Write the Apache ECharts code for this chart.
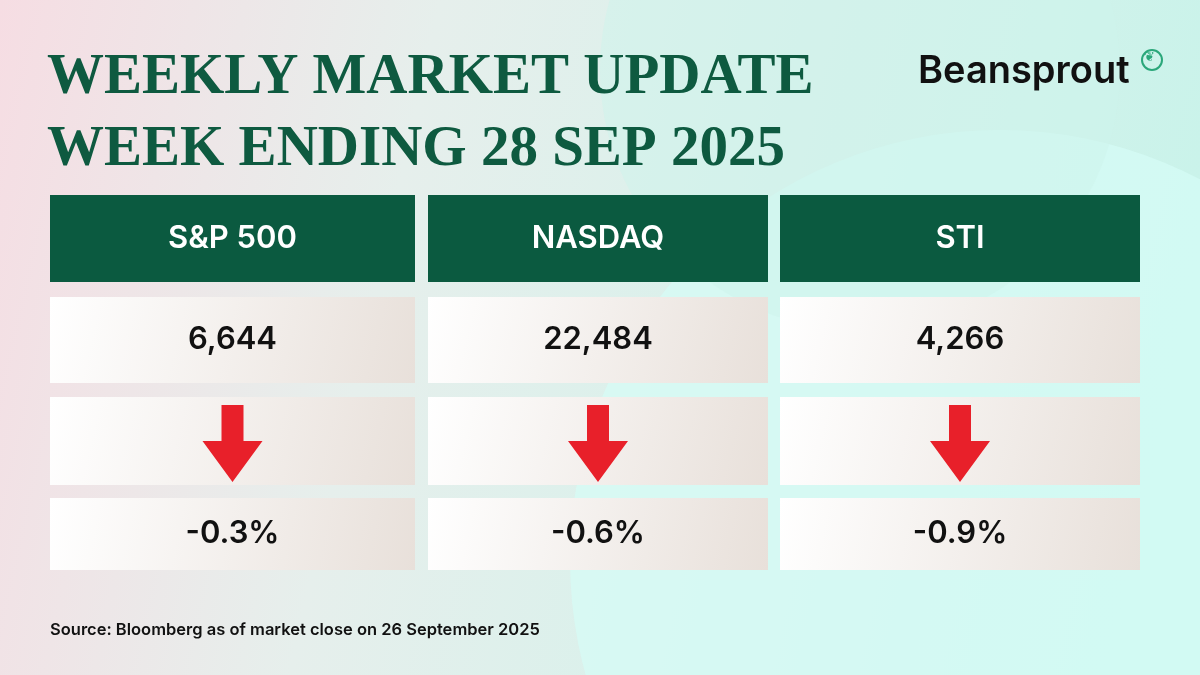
<!DOCTYPE html>
<html><head><meta charset="utf-8">
<script src="https://cdn.jsdelivr.net/npm/echarts@6/dist/echarts.min.js"></script>
<style>html,body{margin:0;padding:0}#c{width:1200px;height:675px}</style>
</head><body><div id="c"></div>
<script>
const indices = ["S&P 500", "NASDAQ", "STI"];
const levels = ["6,644", "22,484", "4,266"];
const changes = [-0.3, -0.6, -0.9];
const titleLines = ["WEEKLY MARKET UPDATE", "WEEK ENDING 28 SEP 2025"];
const sourceText = "Source: Bloomberg as of market close on 26 September 2025";

const chart = echarts.init(document.getElementById('c'));
const colX = [[50,415],[428,768],[780,1140]];
const rows = {head:[195,282], val:[297,383], arrow:[397,485], pct:[498,570]};
const g = [];
g.push({type:'rect', shape:{x:0,y:0,width:1200,height:675}, style:{fill:new echarts.graphic.LinearGradient(0,0,1,0.4,[{offset:0,color:'#f6dde3'},{offset:0.35,color:'#e6efec'},{offset:1,color:'#c9f3ea'}])}, z:0});
g.push({type:'circle', shape:{cx:1000,cy:560,r:430}, style:{fill:'rgba(214,252,246,0.7)'}, z:0});
g.push({type:'circle', shape:{cx:860,cy:70,r:260}, style:{fill:'rgba(205,244,236,0.5)'}, z:0});
titleLines.forEach((t,i)=>g.push({type:'text', left:47, top:50+i*72, style:{text:t, font:'bold 57px "Liberation Serif", serif', fill:'#0e5a40'}, z:5}));
g.push({type:'text', left:918, top:53, style:{text:'Beansprout', font:'600 38px Inter, sans-serif', fill:'#111'}, z:5});
g.push({type:'circle', shape:{cx:1152,cy:60,r:10}, style:{fill:'none', stroke:'#2aa77a', lineWidth:2}, z:5});
g.push({type:'text', left:1144, top:51, style:{text:'❦', font:'13px sans-serif', fill:'#2aa77a'}, z:5});
const cellFill = new echarts.graphic.LinearGradient(0,0,1,1,[{offset:0,color:'#ffffff'},{offset:1,color:'#e8e0da'}]);
indices.forEach((name,i)=>{
  const [x0,x1] = colX[i], w = x1-x0, cx=(x0+x1)/2;
  const box=(r,fill)=>g.push({type:'rect', shape:{x:x0,y:rows[r][0],width:w,height:rows[r][1]-rows[r][0]}, style:{fill:fill}, z:2});
  const txt=(r,t,color)=>g.push({type:'text', x:cx, y:(rows[r][0]+rows[r][1])/2, style:{text:t, font:'600 31px Inter, sans-serif', fill:color, align:'center', verticalAlign:'middle'}, z:4});
  box('head','#0b5a40'); txt('head',name,'#ffffff');
  box('val',cellFill); txt('val',levels[i],'#111');
  box('arrow',cellFill);
  box('pct',cellFill); txt('pct',changes[i].toFixed(1)+'%','#111');
  const down = changes[i] < 0, top=rows.arrow[0]+8, bot=rows.arrow[1]-3;
  const pts = down ? [[cx-11,top],[cx+11,top],[cx+11,top+36],[cx+30,top+36],[cx,bot],[cx-30,top+36],[cx-11,top+36]]
                   : [[cx-11,bot],[cx+11,bot],[cx+11,bot-36],[cx+30,bot-36],[cx,top],[cx-30,bot-36],[cx-11,bot-36]];
  g.push({type:'polygon', shape:{points:pts}, style:{fill: down?'#e8202a':'#1a9a4a'}, z:4});
});
g.push({type:'text', left:50, top:622, style:{text:sourceText, font:'600 16.5px Inter, sans-serif', fill:'#111'}, z:5});
chart.setOption({animation:false, graphic:{elements:g}});
</script></body></html>
